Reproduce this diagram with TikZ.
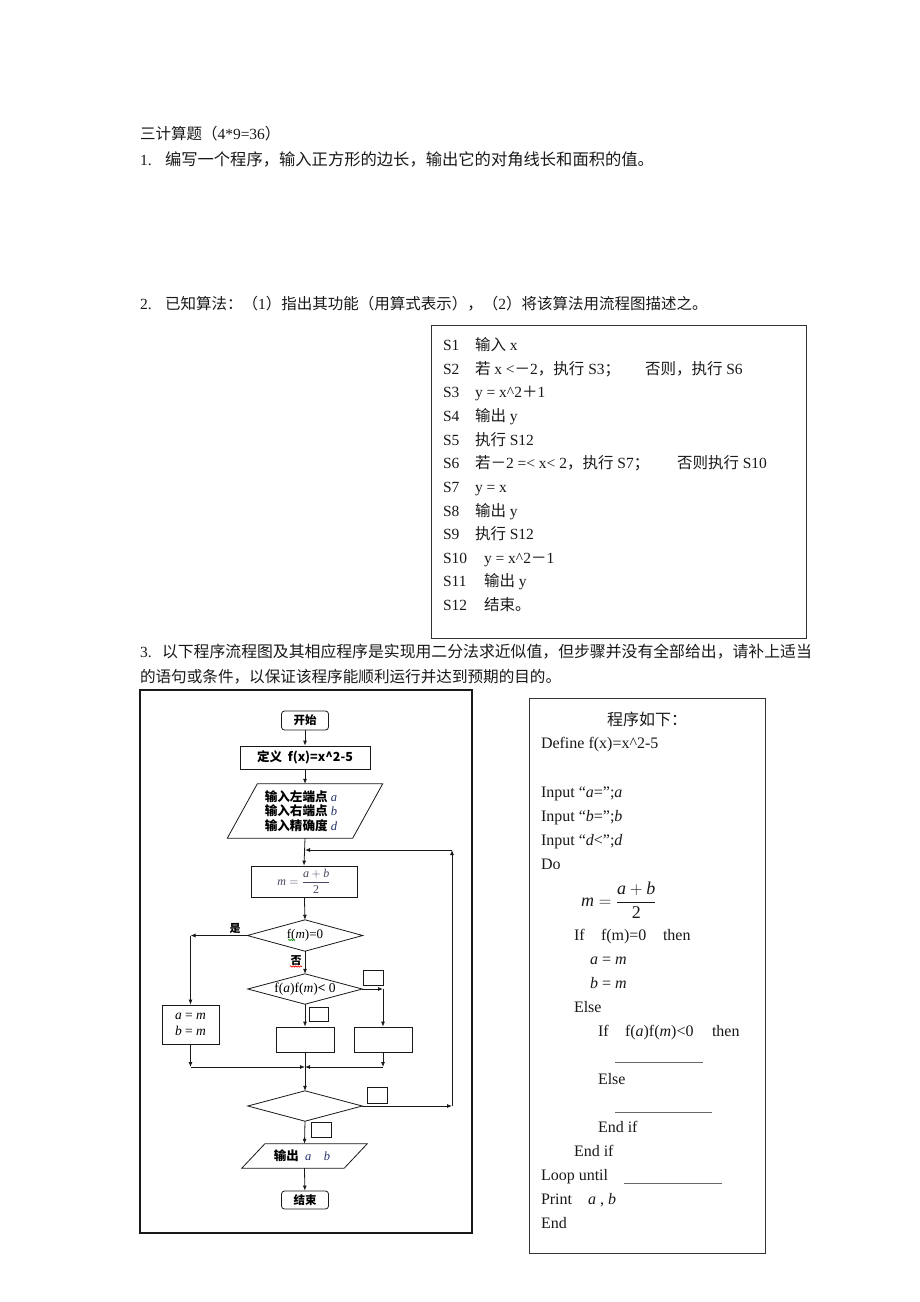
\documentclass[tikz,border=0pt]{standalone}
\usepackage{fontspec}
\setmainfont{Liberation Serif}
\newfontfamily\cjk{Noto Sans CJK SC}
\usetikzlibrary{arrows.meta,decorations.pathmorphing}
\newcommand\fs[1]{\fontsize{#1}{#1}\selectfont}
\newcommand\C[1]{{\cjk #1}}
\newcommand\CB[1]{{\cjk\bfseries #1}}
\definecolor{ink}{RGB}{25,25,25}
\definecolor{varc}{RGB}{35,50,105}
\definecolor{mathgray}{RGB}{70,70,95}
\begin{document}
\begin{tikzpicture}[x=1pt,y=-1pt,
  txt/.style={anchor=base west, inner sep=0pt, outer sep=0pt, font={\fs{15.5}}, text=ink},
  ln/.style={draw=ink, line width=0.8pt},
  arr/.style={ln, -{Latex[length=5pt,width=4pt]}},
  fbox/.style={draw=ink, line width=0.8pt, inner sep=0pt, rectangle},
  ghost/.style={inner sep=0pt, rectangle},
  qframe/.style={draw=black!80, line width=1pt, inner sep=0pt, rectangle},
  wave/.style={decorate, decoration={snake, amplitude=0.7pt, segment length=2.5pt}, line width=0.6pt},
  ulin/.style={draw=black!60, line width=0.6pt}
]
\useasboundingbox (0,0) rectangle (920,1302);
\fill[white] (0,0) rectangle (920,1302);

% ---------- header texts ----------
\node[txt] (title) at (140,139.5) {\C{三计算题（}4*9=36\C{）}};
\node[txt] (q1n) at (140,165.5) {1.};
\node[txt, font={\fs{16.3}}] (q1) at (165,165.5) {\C{编写一个程序，输入正方形的边长，输出它的对角线长和面积的值。}};
\node[txt] (q2n) at (140,309.5) {2.};
\node[txt, font={\fs{15.5}}] (q2) at (165,309.5) {\C{已知算法：（}1\C{）指出其功能（用算式表示），（}2\C{）将该算法用流程图描述之。}};

% ---------- algorithm box ----------
\node[qframe, minimum width=375, minimum height=313] (qbox) at (618.5,481.5) {};
\node[txt] (s1) at (443,350.5) {S1};  \node[txt] (s1t) at (475,350.5) {\C{输入} x};
\node[txt] (s2) at (443,374.1) {S2};  \node[txt] (s2t) at (475,374.1) {\C{若} x <\C{－}2\C{，执行} S3\C{；}};
\node[txt] (s2e) at (645,374.1) {\C{否则，执行} S6};
\node[txt] (s3) at (443,397.8) {S3};  \node[txt] (s3t) at (475,397.8) {y = x\textasciicircum2\C{＋}1};
\node[txt] (s4) at (443,421.4) {S4};  \node[txt] (s4t) at (475,421.4) {\C{输出} y};
\node[txt] (s5) at (443,445.1) {S5};  \node[txt] (s5t) at (475,445.1) {\C{执行} S12};
\node[txt] (s6) at (443,468.7) {S6};  \node[txt] (s6t) at (475,468.7) {\C{若－}2 =< x< 2\C{，执行} S7\C{；}};
\node[txt] (s6e) at (677,468.7) {\C{否则执行} S10};
\node[txt] (s7) at (443,492.3) {S7};  \node[txt] (s7t) at (475,492.3) {y = x};
\node[txt] (s8) at (443,516.0) {S8};  \node[txt] (s8t) at (475,516.0) {\C{输出} y};
\node[txt] (s9) at (443,539.6) {S9};  \node[txt] (s9t) at (475,539.6) {\C{执行} S12};
\node[txt] (s10) at (443,563.3) {S10}; \node[txt] (s10t) at (484,563.3) {y = x\textasciicircum2\C{－}1};
\node[txt] (s11) at (443,586.9) {S11}; \node[txt] (s11t) at (484,586.9) {\C{输出} y};
\node[txt] (s12) at (443,610.5) {S12}; \node[txt] (s12t) at (484,610.5) {\C{结束。}};

% ---------- item 3 text ----------
\node[txt] (q3n) at (140,657.5) {3.};
\node[txt, font={\fs{15.85}}] (q3a) at (162,657.5) {\C{以下程序流程图及其相应程序是实现用二分法求近似值，但步骤并没有全部给出，请补上适当}};
\node[txt, font={\fs{15.6}}] (q3b) at (140,682.5) {\C{的语句或条件，以保证该程序能顺利运行并达到预期的目的。}};

% ---------- flowchart ----------
\node[draw=ink, line width=1.1pt, inner sep=0pt, minimum width=332, minimum height=543] (fcframe) at (306,961.5) {};

\node[fbox, rounded corners=3pt, minimum width=47, minimum height=19, font={\fs{11.5}}] (start) at (305,720.5) {\CB{开始}};
\node[fbox, minimum width=130, minimum height=23, font={\fs{12.5}}] (def) at (305,757.5) {\CB{定义\ \ f(x)=x\textasciicircum 2-5}};
\node[ghost, minimum width=125, minimum height=54] (inp) at (305,811) {};
\draw[ln] ([xshift=15]inp.north west) -- ([xshift=15]inp.north east) -- ([xshift=-15]inp.south east) -- ([xshift=-15]inp.south west) -- cycle;
\node[ghost, align=left, font={\fs{12.6}\baselineskip=14.5pt}, anchor=center] (inptxt) at (301,811) {\CB{输入左端点} \textcolor{varc}{\textit{a}}\\\CB{输入右端点} \textcolor{varc}{\textit{b}}\\\CB{输入精确度} \textcolor{varc}{\textit{d}}};

\node[fbox, minimum width=106, minimum height=31, font={\fs{12}}, text=mathgray] (mb) at (304,881.5) {$\textit{m}=\displaystyle\frac{\textit{a}+\textit{b}}{\textrm{2}}$};

\node[ghost, minimum width=115, minimum height=31, font={\fs{13}}] (d1) at (305,935.5) {f(\textit{m})=0};
\draw[ln] (d1.north) -- (d1.east) -- (d1.south) -- (d1.west) -- cycle;
\node[ghost, font={\fs{11}}] (yes) at (235,928) {\CB{是}};
\node[ghost, font={\fs{11}}] (no) at (296,961) {\CB{否}};
\draw[wave, draw=green!60!black] (288,940) -- (295,940);
\draw[wave, draw=red] (290,966.5) -- (302,966.5);

\node[fbox, minimum width=57, minimum height=39, align=center, font={\fs{13.5}\baselineskip=16pt}] (aeqm) at (190.5,1024.5) {\textit{a} = \textit{m}\\\textit{b} = \textit{m}};

\node[ghost, minimum width=114, minimum height=30, font={\fs{13.5}}] (d2) at (305,989) {f(\textit{a})f(\textit{m})\textbf{<} 0};
\draw[ln] (d2.north) -- (d2.east) -- (d2.south) -- (d2.west) -- cycle;

\node[fbox, minimum width=58, minimum height=25] (midb) at (305,1039.5) {};
\node[fbox, minimum width=58, minimum height=25] (rb) at (383,1039.5) {};

\node[ghost, minimum width=114, minimum height=30] (d3) at (305,1106) {};
\draw[ln] (d3.north) -- (d3.east) -- (d3.south) -- (d3.west) -- cycle;

\node[ghost, minimum width=102, minimum height=24] (outp) at (304.5,1156) {};
\draw[ln] ([xshift=11.5]outp.north west) -- ([xshift=11.5]outp.north east) -- ([xshift=-11.5]outp.south east) -- ([xshift=-11.5]outp.south west) -- cycle;
\node[ghost, font={\fs{12.5}}] (outtxt) at (302,1156) {\CB{输出}\ \ \textcolor{varc}{\textit{a}}\ \ \ \ \textcolor{varc}{\textit{b}}};

\node[fbox, rounded corners=3pt, minimum width=47, minimum height=18, font={\fs{11.5}}] (endn) at (305,1200) {\CB{结束}};

% small blank boxes
\node[fbox, minimum width=20, minimum height=15] (bk1) at (373,977.5) {};
\node[fbox, minimum width=19, minimum height=14] (bk2) at (318.5,1014) {};
\node[fbox, minimum width=20, minimum height=16] (bk3) at (377,1095) {};
\node[fbox, minimum width=20, minimum height=15] (bk4) at (321,1129.5) {};

% connectors
\draw[arr] (start) -- (def);
\draw[arr] (def) -- (inp.north);
\draw[arr] (inp.south) -- (mb.north);
\draw[arr] (mb) -- (d1.north);
\coordinate (cL) at (aeqm.north |- d1.west);
\draw[arr] (d1.west) -- (cL);
\draw[arr] (cL) -- (aeqm.north);
\draw[arr] (d1.south) -- (d2.north);
\coordinate (cR) at (rb.north |- d2.east);
\draw[arr] (d2.east) -- (cR);
\draw[arr] (cR) -- (rb.north);
\draw[arr] (d2.south) -- (midb.north);
\coordinate (m0) at (305,1067);
\coordinate (mL) at (aeqm.south |- m0);
\coordinate (mR) at (rb.south |- m0);
\draw[arr] (aeqm.south) -- (mL);
\draw[arr] (rb.south) -- (mR);
\draw[arr] (mL) -- (m0);
\draw[arr] (mR) -- (m0);
\draw[ln] (midb.south) -- (m0);
\draw[arr] (m0) -- (d3.north);
\coordinate (l1) at (452,1106);
\coordinate (l2) at (452,850);
\coordinate (l3) at (305,850);
\draw[arr] (d3.east) -- (l1);
\draw[arr] (l1) -- (l2);
\draw[arr] (l2) -- (l3);
\draw[arr] (d3.south) -- (outp.north);
\draw[arr] (outp.south) -- (endn);

% ---------- program box ----------
\node[qframe, minimum width=236, minimum height=555] (pbox) at (647,975.5) {};
\node[txt, font={\fs{16}}] (p0) at (607,725) {\C{程序如下：}};
\begin{scope}[every node/.style={txt, font={\fs{16}}}]
\node (p1) at (541,748.5) {Define f(x)=x\textasciicircum2-5};
\node (p2) at (541,797.5) {Input “\textit{a}=”;\textit{a}};
\node (p3) at (541,821.5) {Input “\textit{b}=”;\textit{b}};
\node (p4) at (541,845.5) {Input “\textit{d}<”;\textit{d}};
\node (p5) at (541,869.5) {Do};
\node[anchor=west, font={\fs{18}}] (p6) at (581,900) {$\textit{m}=\displaystyle\frac{\textit{a}+\textit{b}}{\textrm{2}}$};
\node (p7a) at (574,940) {If};
\node (p7b) at (601,940) {f(m)=0};
\node (p7c) at (663,940) {then};
\node (p8) at (590,964.5) {\textit{a} = \textit{m}};
\node (p9) at (590,988.5) {\textit{b} = \textit{m}};
\node (p10) at (574,1012.5) {Else};
\node (p11a) at (598,1036.5) {If};
\node (p11b) at (625,1036.5) {f(\textit{a})f(\textit{m})<0};
\node (p11c) at (712,1036.5) {then};
\node (p12) at (598,1084.5) {Else};
\node (p13) at (598,1132.5) {End if};
\node (p14) at (574,1156.5) {End if};
\node (p15) at (541,1180.5) {Loop until};
\node (p16a) at (541,1204.5) {Print};
\node (p16b) at (588,1204.5) {\textit{a} , \textit{b}};
\node (p17) at (541,1228.5) {End};
\end{scope}
\draw[ulin] (615,1062) -- (703,1062);
\draw[ulin] (615,1112) -- (712,1112);
\draw[ulin] (624,1183) -- (722,1183);
\end{tikzpicture}
\end{document}
